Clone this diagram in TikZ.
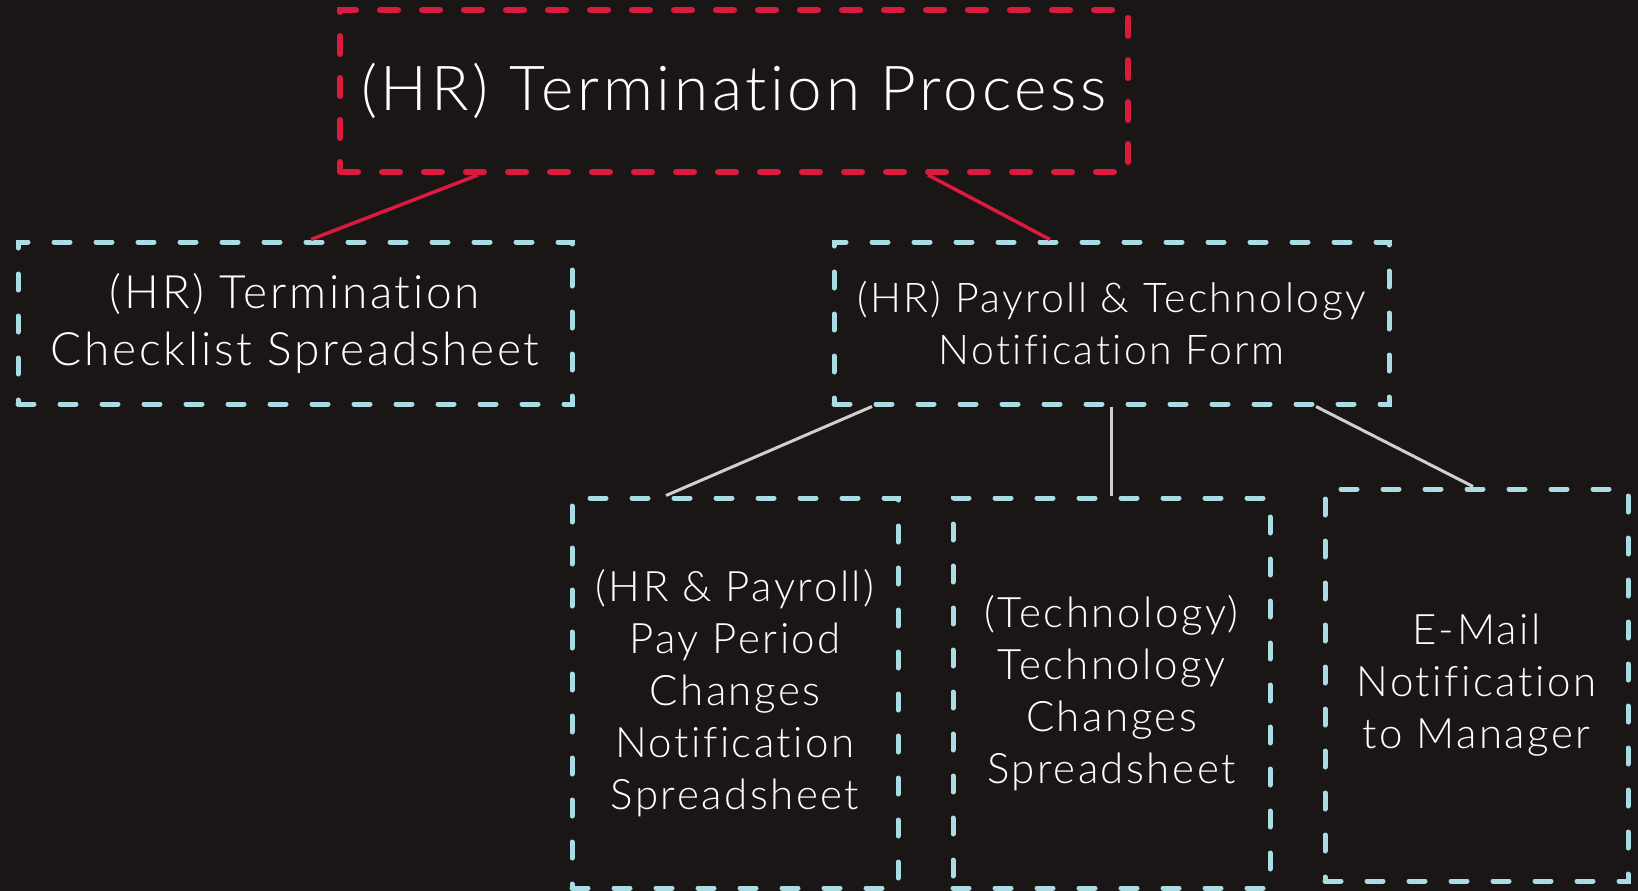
\documentclass[tikz,border=0pt]{standalone}
\usepackage{fontspec}
\setmainfont{Lato Light}[LetterSpace=6, Ligatures=NoCommon]
\usetikzlibrary{calc}
\definecolor{bgc}{HTML}{1B1616}
\definecolor{redc}{HTML}{DC1A3F}
\definecolor{bluec}{HTML}{A9DCE3}
\definecolor{grayc}{HTML}{CFCFCF}
\tikzset{
  redbox/.style={draw=redc, line width=6pt, line cap=round, dash pattern=on 18pt off 24pt, text=white, align=center, inner sep=0pt},
  bluebox/.style={draw=bluec, line width=5pt, line cap=round, dash pattern=on 16pt off 26pt, text=white, align=center, inner sep=0pt},
  redline/.style={draw=redc, line width=3.5pt},
  grayline/.style={draw=grayc, line width=3pt},
}
\begin{document}
\begin{tikzpicture}[x=1pt,y=-1pt]
\fill[bgc] (0,0) rectangle (1638,891);
\useasboundingbox (0,0) rectangle (1638,891);
\node[redbox, minimum width=788pt, minimum height=162pt, font=\fontsize{62}{72}\selectfont] (top) at (734,91) {(HR) Termination Process};
\node[bluebox, minimum width=554pt, minimum height=162pt, font=\fontsize{46}{57}\selectfont] (left) at (295,323) {(HR) Termination\\Checklist Spreadsheet};
\node[bluebox, minimum width=555pt, minimum height=162pt, font=\fontsize{41}{52}\selectfont] (mid) at (1111.5,323) {(HR) Payroll \& Technology\\Notification Form};
\node[bluebox, minimum width=326pt, minimum height=390pt, font=\fontsize{42}{52}\selectfont] (b1) at (735,693) {(HR \& Payroll)\\Pay Period\\Changes\\Notification\\Spreadsheet};
\node[bluebox, minimum width=317pt, minimum height=390pt, font=\fontsize{42}{52}\selectfont] (b2) at (1111.5,693) {(Technology)\\Technology\\Changes\\Spreadsheet};
\node[bluebox, minimum width=303pt, minimum height=392pt, font=\fontsize{42}{52}\selectfont] (b3) at (1476.5,685) {E-Mail\\Notification\\to Manager};
\draw[redline] ([xshift=-256pt]top.south) -- ([xshift=16pt]left.north);
\draw[redline] ([xshift=194pt]top.south) -- ([xshift=-61.5pt]mid.north);
\draw[grayline] ([xshift=-239.5pt]mid.south) -- ([xshift=-69pt]b1.north);
\draw[grayline] (mid.south) -- (b2.north);
\draw[grayline] ([xshift=204.5pt]mid.south) -- ([xshift=-3.5pt]b3.north);
\end{tikzpicture}
\end{document}
